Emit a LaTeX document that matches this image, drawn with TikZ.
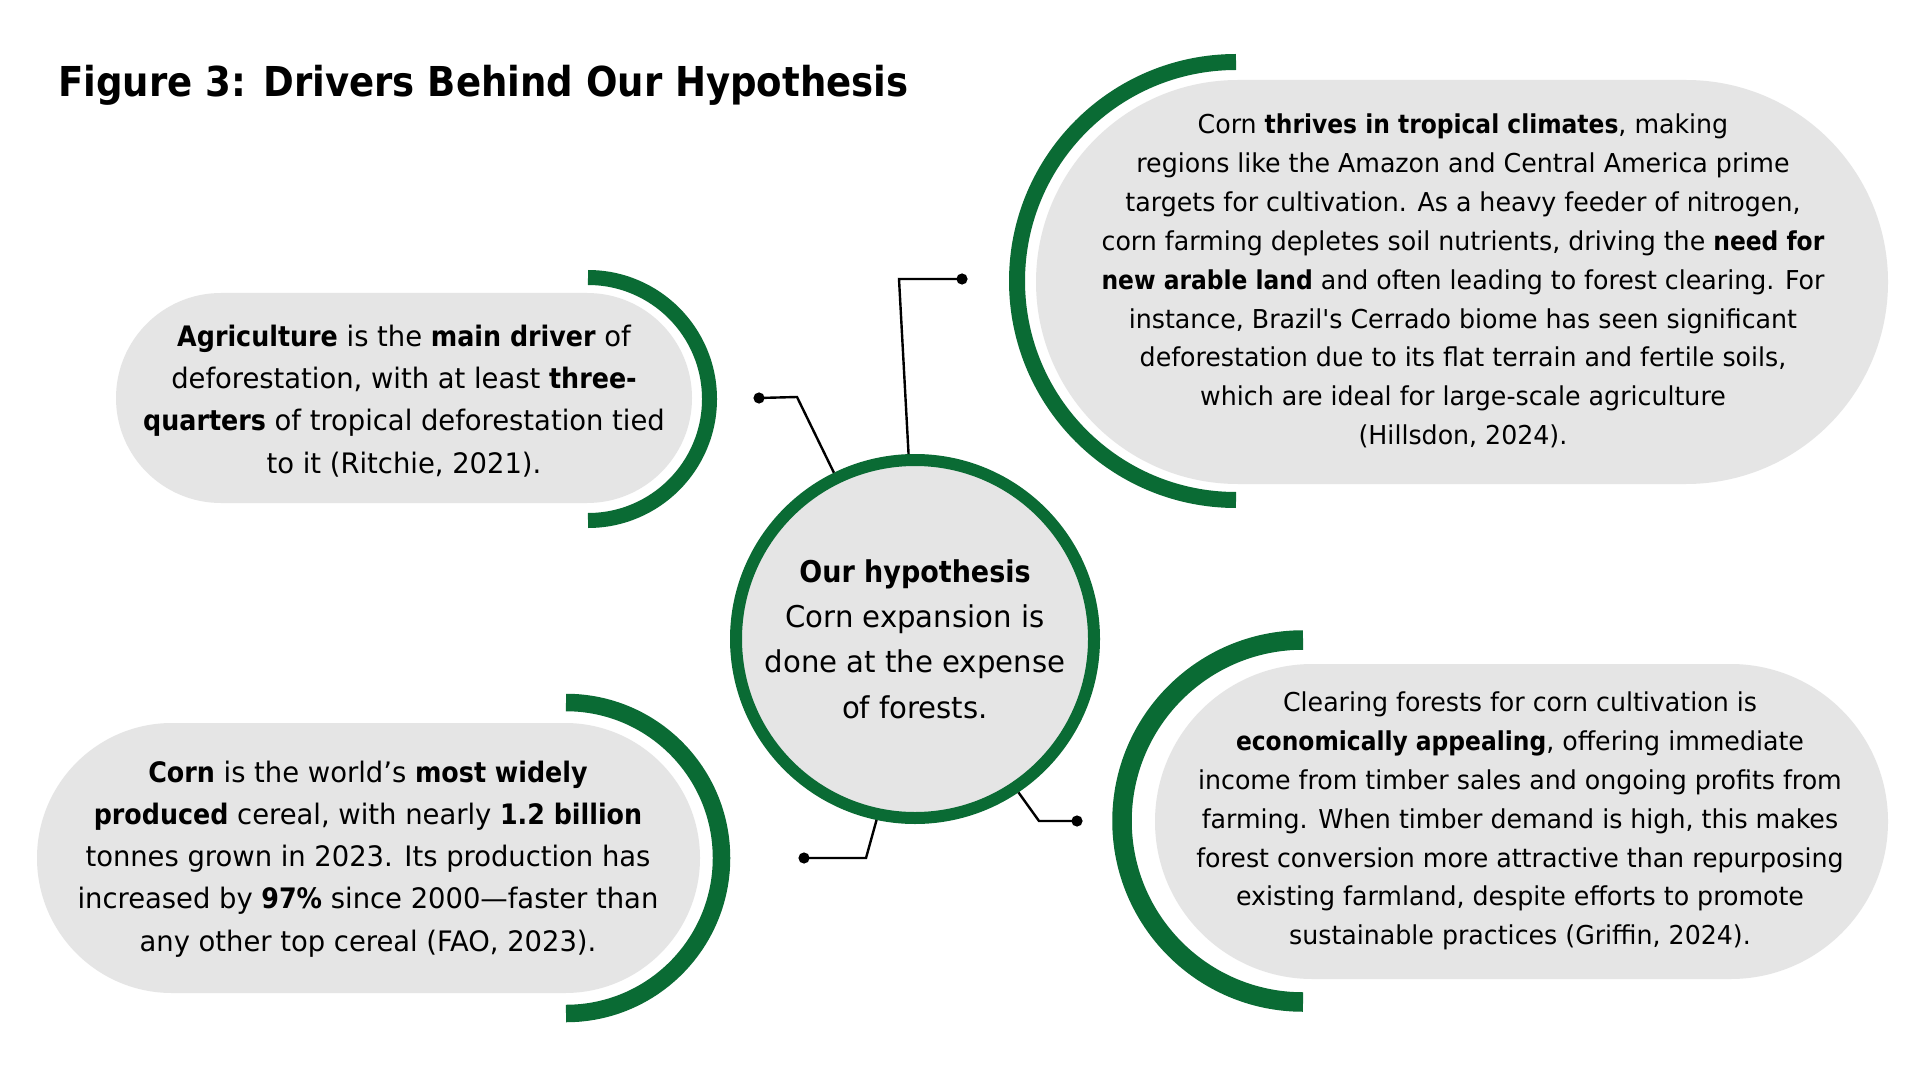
\documentclass[tikz,border=0pt]{standalone}
\usepackage{fontspec}
\newfontfamily\bodyfont{DejaVu Sans Condensed}[UprightFeatures={FakeStretch=1.08}]
\definecolor{fgreen}{RGB}{10,107,52}
\definecolor{pillgray}{RGB}{229,229,229}
\begin{document}
\begin{tikzpicture}[x=0.5pt,y=-0.5pt,
  pill/.style={fill=pillgray},
  greenarc/.style={draw=fgreen, line cap=butt},
  lefttext/.style={align=center, font=\bodyfont\fontsize{14.1}{21.1}\selectfont, inner sep=0pt},
  righttext/.style={align=center, font=\bodyfont\fontsize{13}{19.45}\selectfont, inner sep=0pt},
  conn/.style={line width=1.2pt, black, line join=miter},
  dot/.style={circle, fill=black, inner sep=0pt, minimum size=5.6pt}
]
\useasboundingbox (0,0) rectangle (1920,1080);
\fill[white] (0,0) rectangle (1920,1080);

% title
\node[anchor=base west, font=\bodyfont\bfseries\fontsize{20.6}{26}\selectfont, inner sep=0pt] (title) at (58,96.5) {Figure 3: Drivers Behind Our Hypothesis};

% pills
\fill[pill, rounded corners=52.5pt] (116,293) rectangle (692,503);
\fill[pill, rounded corners=101pt] (1036,80) rectangle (1888,484);
\fill[pill, rounded corners=67.5pt] (37,723) rectangle (700,993);
\fill[pill, rounded corners=78.75pt] (1155,664) rectangle (1888,979);

% green arcs
\draw[greenarc, line width=7.5pt] (588,277.5) arc[start angle=90, end angle=-90, radius=60.75pt];
\draw[greenarc, line width=8pt] (1236,62) arc[start angle=90, end angle=270, radius=109.5pt];
\draw[greenarc, line width=8.75pt] (566,702.5) arc[start angle=90, end angle=-90, radius=77.75pt];
\draw[greenarc, line width=9.75pt] (1303,640) arc[start angle=90, end angle=270, radius=90.5pt];

% texts
\node[lefttext] (tA) at (404,401) {\textbf{Agriculture} is the \textbf{main driver} of\\
deforestation, with at least \textbf{three-}\\
\textbf{quarters} of tropical deforestation tied\\
to it (Ritchie, 2021).};

\node[righttext] (tB) at (1463,281) {Corn \textbf{thrives in tropical climates}, making\\
regions like the Amazon and Central America prime\\
targets for cultivation. As a heavy feeder of nitrogen,\\
corn farming depletes soil nutrients, driving the \textbf{need for}\\
\textbf{new arable land} and often leading to forest clearing. For\\
instance, Brazil's Cerrado biome has seen significant\\
deforestation due to its flat terrain and fertile soils,\\
which are ideal for large-scale agriculture\\
(Hillsdon, 2024).};

\node[lefttext] (tC) at (368,859) {\textbf{Corn} is the world’s \textbf{most widely}\\
\textbf{produced} cereal, with nearly \textbf{1.2 billion}\\
tonnes grown in 2023. Its production has\\
increased by \textbf{97\%} since 2000—faster than\\
any other top cereal (FAO, 2023).};

\node[righttext] (tD) at (1520,821) {Clearing forests for corn cultivation is\\
\textbf{economically appealing}, offering immediate\\
income from timber sales and ongoing profits from\\
farming. When timber demand is high, this makes\\
forest conversion more attractive than repurposing\\
existing farmland, despite efforts to promote\\
sustainable practices (Griffin, 2024).};

% central circle
\node[circle, draw=fgreen, line width=6pt, fill=pillgray, minimum size=179pt, inner sep=0pt,
      align=center, font=\bodyfont\fontsize{15}{22.65}\selectfont] (hyp) at (915,639)
  {\textbf{Our hypothesis}\\Corn expansion is\\done at the expense\\of forests.};

% connectors
\node[dot] (d1) at (759,398) {};
\node[dot] (d2) at (962,279) {};
\node[dot] (d3) at (804,858) {};
\node[dot] (d4) at (1077,821) {};
\draw[conn] (d1.center) -- (797,397) -- (hyp.116);
\draw[conn] (d2.center) -- (899,279) -- (hyp.92);
\draw[conn] (d3.center) -- (866,858) -- (hyp.258);
\draw[conn] (d4.center) -- (1039,821) -- (hyp.304);
\end{tikzpicture}
\end{document}
